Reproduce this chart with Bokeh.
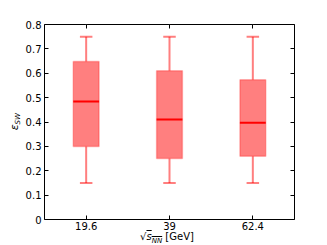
from bokeh.plotting import figure
from bokeh.models import FactorRange, LinearAxis, CategoricalAxis, FixedTicker, ColumnDataSource, Div
from bokeh.layouts import column, row
from bokeh.transform import dodge
from bokeh.embed import file_html
from bokeh.resources import INLINE

cats = ["19.6", "39", "62.4"]
lower = [0.15, 0.15, 0.15]
q1 = [0.30, 0.25, 0.26]
median = [0.484, 0.41, 0.397]
q3 = [0.648, 0.61, 0.573]
upper = [0.75, 0.75, 0.75]
yticks = [0.0, 0.1, 0.2, 0.3, 0.4, 0.5, 0.6, 0.7, 0.8]

src = ColumnDataSource(dict(cat=cats, lower=lower, q1=q1, median=median, q3=q3, upper=upper))

FONT = "DejaVu Sans"
p = figure(width=289, height=232, x_range=FactorRange(*cats, range_padding=0), y_range=(0, 0.8),
           output_backend="svg", toolbar_location=None, margin=0,
           min_border_left=19, min_border_right=17, min_border_top=24, min_border_bottom=12)
p.x_range.factor_padding = 0
p.grid.visible = False
p.outline_line_color = "black"
p.outline_line_width = 1

for ax in [p.xaxis[0], p.yaxis[0]]:
    ax.major_tick_in = 4
    ax.major_tick_out = 0
    ax.minor_tick_line_color = None
    ax.major_label_text_font = FONT
    ax.major_label_text_font_size = "10px"
    ax.major_label_text_color = "black"
    ax.axis_line_color = None
p.yaxis[0].major_label_standoff = 3
p.xaxis[0].major_label_standoff = 2
p.yaxis[0].ticker = FixedTicker(ticks=yticks)

ra = LinearAxis(ticker=FixedTicker(ticks=yticks), major_label_overrides={t: " " for t in yticks},
                major_tick_in=4, major_tick_out=0, minor_tick_line_color=None, axis_line_color=None,
                major_label_standoff=0, major_label_text_font_size="1px")
p.add_layout(ra, "right")
ta = CategoricalAxis(major_label_overrides={c: " " for c in cats}, major_tick_in=4, major_tick_out=0,
                     axis_line_color=None, major_label_standoff=0, major_label_text_font_size="1px")
p.add_layout(ta, "above")

red = "#ff0000"
# whiskers
p.segment(x0="cat", x1="cat", y0="q3", y1="upper", source=src, line_color=red, line_alpha=0.5, line_width=2)
p.segment(x0="cat", x1="cat", y0="lower", y1="q1", source=src, line_color=red, line_alpha=0.5, line_width=2)
# caps
for col in ["upper", "lower"]:
    p.segment(x0=dodge("cat", -0.075, range=p.x_range), x1=dodge("cat", 0.075, range=p.x_range),
              y0=col, y1=col, source=src, line_color=red, line_alpha=0.5, line_width=2)
# boxes
p.vbar(x="cat", bottom="q1", top="q3", width=0.31, source=src, fill_color=red, fill_alpha=0.5,
       line_color=red, line_alpha=0.25, line_width=1.5)
# medians
p.segment(x0=dodge("cat", -0.155, range=p.x_range), x1=dodge("cat", 0.155, range=p.x_range),
          y0="median", y1="median", source=src, line_color=red, line_width=2)

ylab = Div(width=22, height=232, margin=0, text=(
    '<div style="height:196px;margin-top:24px;padding-left:15px;width:7px;display:flex;'
    'align-items:center;justify-content:center;">'
    '<span style="writing-mode:vertical-rl;transform:rotate(180deg);font-family:\'DejaVu Sans\';'
    'font-size:11px;color:black;"><i>ε</i><i style="font-size:7px;vertical-align:sub;">SW</i></span></div>'))
xlab = Div(width=311, height=12, margin=0, text=(
    '<div style="position:relative;top:-4px;width:311px;text-align:center;padding-left:23px;'
    'box-sizing:border-box;font-family:\'DejaVu Sans\';font-size:10px;color:black;line-height:11px;">'
    '√<span style="text-decoration:overline;"><i>s</i><i style="font-size:7px;vertical-align:sub;">NN</i></span>'
    ' [GeV]</div>'))

layout = column(row(ylab, p, spacing=0, margin=0), xlab, spacing=0, margin=0)
open("out.html", "w").write(file_html(layout, INLINE))
